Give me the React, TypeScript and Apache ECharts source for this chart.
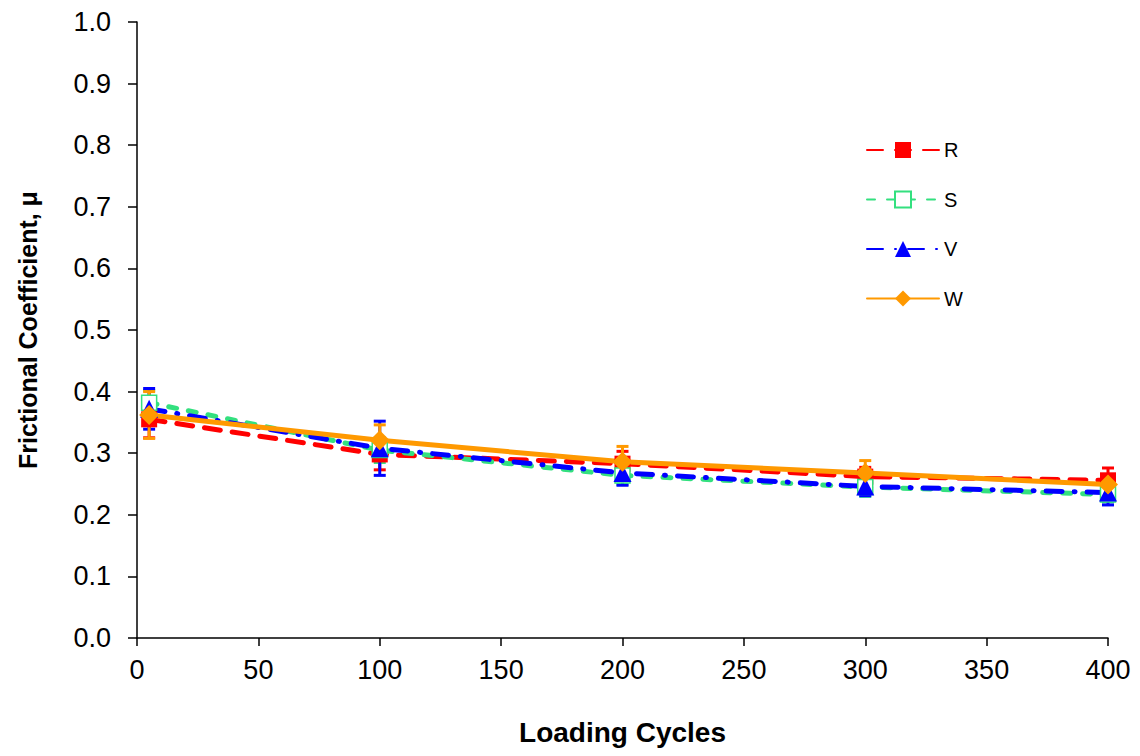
import React, { useEffect, useRef } from "react";
import * as echarts from "echarts";

const cycles = [5, 100, 200, 300, 400];
const rValues = [0.355, 0.298, 0.283, 0.262, 0.256];
const sValues = [0.382, 0.305, 0.264, 0.245, 0.233];
const vValues = [0.372, 0.308, 0.268, 0.246, 0.236];
const wValues = [0.362, 0.321, 0.286, 0.268, 0.249];
const rErr = [0.03, 0.025, 0.02, 0.015, 0.02];
const sErr = [0.02, 0.02, 0.015, 0.015, 0.012];
const vErr = [0.033, 0.044, 0.02, 0.015, 0.02];
const wErr = [0.038, 0.025, 0.025, 0.02, 0.015];

const FONT = "'Liberation Sans', Arial, sans-serif";

function errSeries(name: string, vals: number[], errs: number[], color: string) {
  const data = cycles.map((c, i) => [c, vals[i] - errs[i], vals[i] + errs[i]]);
  return {
    type: "custom",
    name,
    z: 1,
    data,
    renderItem: (params: any, api: any) => {
      const x = api.value(0);
      const lo = api.coord([x, api.value(1)]);
      const hi = api.coord([x, api.value(2)]);
      const w = 6;
      const style = { stroke: color, lineWidth: 3 };
      return {
        type: "group",
        children: [
          { type: "line", shape: { x1: lo[0], y1: lo[1], x2: hi[0], y2: hi[1] }, style },
          { type: "line", shape: { x1: lo[0] - w, y1: lo[1], x2: lo[0] + w, y2: lo[1] }, style },
          { type: "line", shape: { x1: hi[0] - w, y1: hi[1], x2: hi[0] + w, y2: hi[1] }, style },
        ],
      };
    },
  };
}

function lineSeries(name: string, vals: number[], color: string, dash: any, symbol: string, size: number, fill: string) {
  return {
    type: "line",
    name,
    z: 3,
    data: cycles.map((c, i) => [c, vals[i]]),
    symbol,
    symbolSize: size,
    showAllSymbol: true,
    lineStyle: { color, width: 5, type: dash, cap: "round" },
    itemStyle: { color: fill, borderColor: color, borderWidth: fill === "#fff" ? 1.5 : 0 },
  };
}

export default function App() {
  const ref = useRef<HTMLDivElement>(null);
  useEffect(() => {
    const chart = echarts.init(ref.current!, null, { renderer: "svg" });
    chart.setOption({
      animation: false,
      backgroundColor: "#fff",
      textStyle: { fontFamily: FONT },
      grid: { left: 137, right: 32, top: 22, bottom: 118 },
      legend: {
        data: ["R", "S", "V", "W"],
        orient: "vertical",
        left: 861,
        top: 135,
        itemWidth: 72,
        itemHeight: 20,
        itemGap: 29.5,
        textStyle: { fontSize: 20, color: "#000", fontFamily: FONT },
      },
      xAxis: {
        type: "value",
        min: 0,
        max: 400,
        interval: 50,
        name: "Loading Cycles",
        nameLocation: "middle",
        nameGap: 80,
        nameTextStyle: { fontSize: 28, fontWeight: "bold", color: "#000", fontFamily: FONT },
        axisLine: { lineStyle: { color: "#000", width: 1.5 } },
        axisTick: { show: true, length: 8, lineStyle: { color: "#000", width: 1.5 } },
        axisLabel: { fontSize: 27, color: "#000", margin: 18, fontFamily: FONT },
        splitLine: { show: false },
      },
      yAxis: {
        type: "value",
        min: 0,
        max: 1,
        interval: 0.1,
        name: "Frictional Coefficient, μ",
        nameLocation: "middle",
        nameGap: 97,
        nameTextStyle: { fontSize: 25, fontWeight: "bold", color: "#000", fontFamily: FONT },
        axisLine: { show: true, lineStyle: { color: "#000", width: 1.5 } },
        axisTick: { show: true, length: 9, lineStyle: { color: "#000", width: 1.5 } },
        axisLabel: { fontSize: 27, color: "#000", margin: 26, fontFamily: FONT, formatter: (v: number) => v.toFixed(1) },
        splitLine: { show: false },
      },
      series: [
        errSeries("Rerr", rValues, rErr, "#FF0000"),
        errSeries("Serr", sValues, sErr, "#33E07F"),
        errSeries("Verr", vValues, vErr, "#0000FF"),
        errSeries("Werr", wValues, wErr, "#FF9900"),
        lineSeries("R", rValues, "#FF0000", [16, 12], "rect", 16, "#FF0000"),
        lineSeries("S", sValues, "#33E07F", [8, 12], "rect", 15, "#fff"),
        lineSeries("V", vValues, "#0000FF", [16, 12, 1, 12], "triangle", 18, "#0000FF"),
        lineSeries("W", wValues, "#FF9900", "solid", "diamond", 20, "#FF9900"),
      ],
    });
    return () => chart.dispose();
  }, []);
  return <div ref={ref} style={{ width: 1140, height: 756, margin: -8 }} />;
}
